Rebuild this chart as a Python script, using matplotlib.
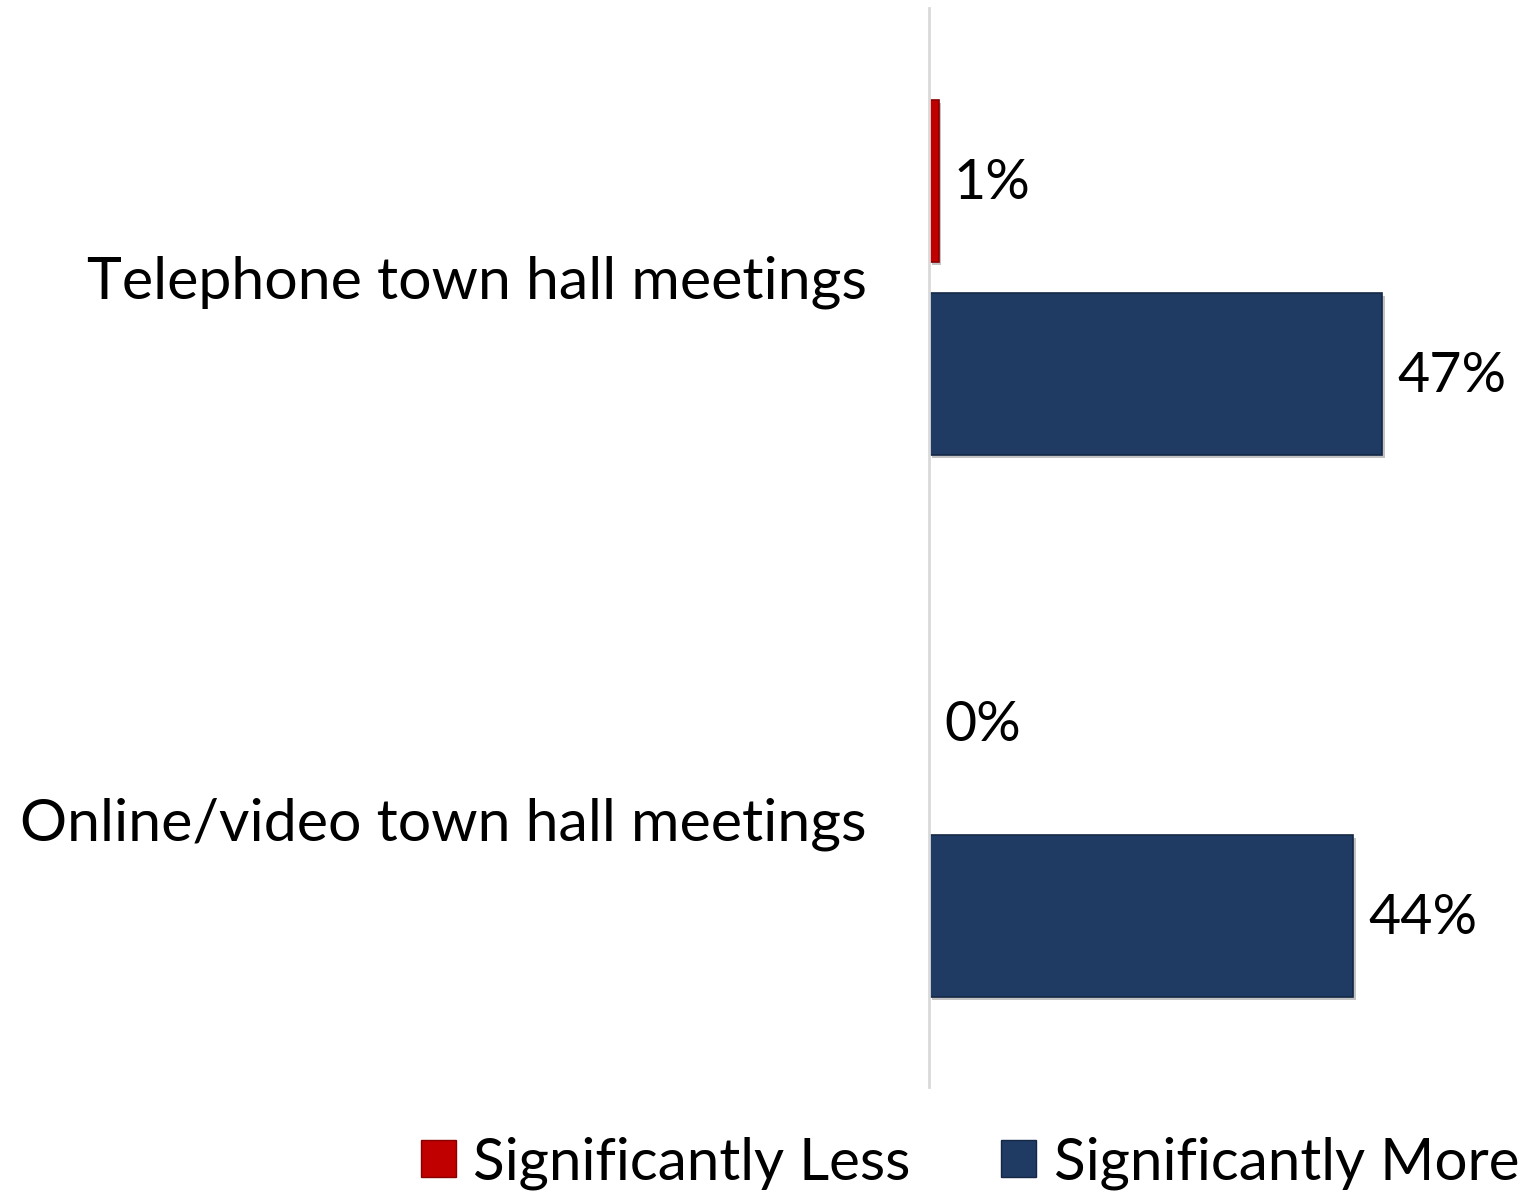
import matplotlib
matplotlib.use("Agg")
import matplotlib.pyplot as plt
import matplotlib.patheffects as pe
from matplotlib.patches import Patch
import numpy as np

plt.rcParams['font.family'] = ['Lato', 'DejaVu Sans']

categories = ["Online/video town hall meetings", "Telephone town hall meetings"]
series_names = ["Significantly Less", "Significantly More"]
sig_less = [0, 1]
sig_more = [44, 47]
colors = ["#C00000", "#1F3A63"]
edges = ["#8A0000", "#142845"]

fig = plt.figure(figsize=(15.29, 11.93), dpi=100)
W, H = 1529, 1193
ax = fig.add_axes([929 / W, 1 - 1087 / H, (W - 929) / W, (1087 - 8) / H])

y = np.arange(len(categories))
off = 0.178
h = 0.299
shadow = [pe.SimplePatchShadow(offset=(2, -2), shadow_rgbFace="#888888", alpha=0.5), pe.Normal()]
b1 = ax.barh(y + off, sig_less, height=h, color=colors[0], edgecolor=edges[0], linewidth=1.2)
b2 = ax.barh(y - off, sig_more, height=h, color=colors[1], edgecolor=edges[1], linewidth=1.2)
for b in list(b1) + list(b2):
    if b.get_width() > 0:
        b.set_path_effects(shadow)

fs = 40
for bars, vals in ((b1, sig_less), (b2, sig_more)):
    for b, v in zip(bars, vals):
        ax.annotate(f"{v}%", (b.get_width(), b.get_y() + b.get_height() / 2),
                    xytext=(15, -3), textcoords="offset pixels",
                    ha="left", va="center", fontsize=fs, color="black")

ax.set_xlim(0, 62.2)
ax.set_ylim(-0.494, 1.497)
ax.set_yticks(y)
ax.set_yticklabels(categories, fontsize=42.5)
ax.tick_params(axis="y", length=0, pad=45)
ax.set_xticks([])
for s in ("top", "right", "bottom"):
    ax.spines[s].set_visible(False)
ax.spines["left"].set_color("#D9D9D9")
ax.spines["left"].set_linewidth(2)

handles = [Patch(facecolor=colors[0], edgecolor=edges[0]), Patch(facecolor=colors[1], edgecolor=edges[1])]
fig.legend(handles, series_names, loc="center", bbox_to_anchor=(970 / W, 1 - 1163 / H),
           ncol=2, frameon=False, fontsize=42, handlelength=0.6, handleheight=0.6,
           handletextpad=0.3, columnspacing=1.55)

fig.savefig("out.png", dpi=100)
